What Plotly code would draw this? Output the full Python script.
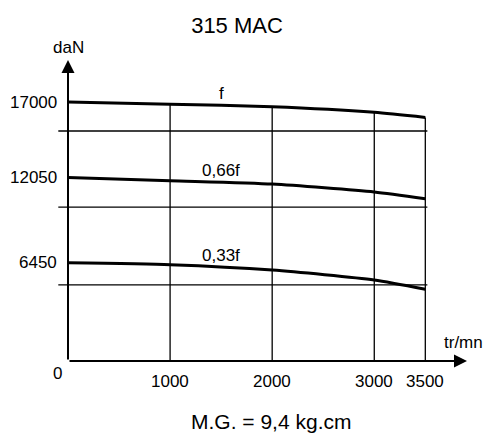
import plotly.graph_objects as go

# ---- data ----
speed = [0, 1000, 2000, 3000, 3500]               # tr/mn
f_full = [17000, 16860, 16690, 16320, 15990]      # f
f_066 = [12050, 11830, 11610, 11090, 10650]       # 0,66f
f_033 = [6450, 6320, 5970, 5320, 4710]            # 0,33f
curve_names = ["f", "0,66f", "0,33f"]
hlines = [15100, 10100, 5000]
x_ticks = [1000, 2000, 3000, 3500]
x_ticklabels = ["1000", "2000", "3000", "3500"]
y_ticks = [17000, 12050, 6450]
y_ticklabels = ["17000", "12050", "6450"]
label_x = 1500

W, H = 489, 435
X0_PX, Y0_PX = 68, 361
SX, SY = 0.10209, 0.015235
xr = [-X0_PX / SX, (W - X0_PX) / SX]
yr = [-(H - Y0_PX) / SY, Y0_PX / SY]

FONT = "Liberation Sans, Arial, sans-serif"
fig = go.Figure()

line_kw = dict(mode="lines", hoverinfo="skip", showlegend=False)

# horizontal reference lines
for h in hlines:
    fig.add_trace(go.Scatter(x=[-95, 3520], y=[h, h], line=dict(color="black", width=1.4), **line_kw))

# vertical lines up to f curve
for xv in x_ticks:
    top = f_full[speed.index(xv)]
    fig.add_trace(go.Scatter(x=[xv, xv], y=[0, top], line=dict(color="black", width=1.3), **line_kw))

# curves
for ys in (f_full, f_066, f_033):
    fig.add_trace(go.Scatter(x=speed, y=ys, line=dict(color="black", width=3, shape="spline", smoothing=0.6), **line_kw))

annotations = []
# axes with arrows
annotations.append(dict(x=0, y=(Y0_PX - 60) / SY, ax=0, ay=0, xref="x", yref="y", axref="x", ayref="y",
                        showarrow=True, arrowhead=2, arrowsize=1.3, arrowwidth=2, arrowcolor="black", text=""))
annotations.append(dict(x=(467 - X0_PX) / SX, y=0, ax=0, ay=0, xref="x", yref="y", axref="x", ayref="y",
                        showarrow=True, arrowhead=2, arrowsize=1.3, arrowwidth=2, arrowcolor="black", text=""))

tf = dict(family=FONT, size=17, color="black")
for xv, lab in zip(x_ticks, x_ticklabels):
    annotations.append(dict(x=xv, y=0, yshift=-20, text=lab, showarrow=False, font=tf,
                            xanchor="center", yanchor="middle"))
annotations.append(dict(x=0, y=0, xshift=-11, yshift=-12, text="0", showarrow=False, font=tf,
                        xanchor="center", yanchor="middle"))
for yv, lab in zip(y_ticks, y_ticklabels):
    annotations.append(dict(x=0, y=yv, xshift=-9, text=lab, showarrow=False, font=tf,
                            xanchor="right", yanchor="middle"))

# curve labels
for ys, name in zip((f_full, f_066, f_033), curve_names):
    yv = (ys[1] + ys[2]) / 2
    annotations.append(dict(x=label_x, y=yv, yshift=12, text=name, showarrow=False, font=tf,
                            xanchor="center", yanchor="middle"))

# axis titles
annotations.append(dict(x=0, y=(Y0_PX - 47) / SY, text="daN", showarrow=False, font=tf,
                        xanchor="center", yanchor="middle"))
annotations.append(dict(x=(463 - X0_PX) / SX, y=(Y0_PX - 342) / SY, text="tr/mn", showarrow=False, font=tf,
                        xanchor="center", yanchor="middle"))
# caption
annotations.append(dict(x=271 / W, y=1 - 421 / H, xref="paper", yref="paper", text="M.G. = 9,4 kg.cm",
                        showarrow=False, font=dict(family=FONT, size=21, color="black"),
                        xanchor="center", yanchor="middle"))

fig.update_layout(
    width=W, height=H,
    margin=dict(l=0, r=0, t=0, b=0),
    paper_bgcolor="white", plot_bgcolor="white",
    title=dict(text="315 MAC", x=237 / W, y=1 - 25 / H, xanchor="center", yanchor="middle",
               font=dict(family=FONT, size=22, color="black")),
    xaxis=dict(range=xr, visible=False, fixedrange=True),
    yaxis=dict(range=yr, visible=False, fixedrange=True),
    annotations=annotations,
    showlegend=False,
)

fig.write_html("out.html")
